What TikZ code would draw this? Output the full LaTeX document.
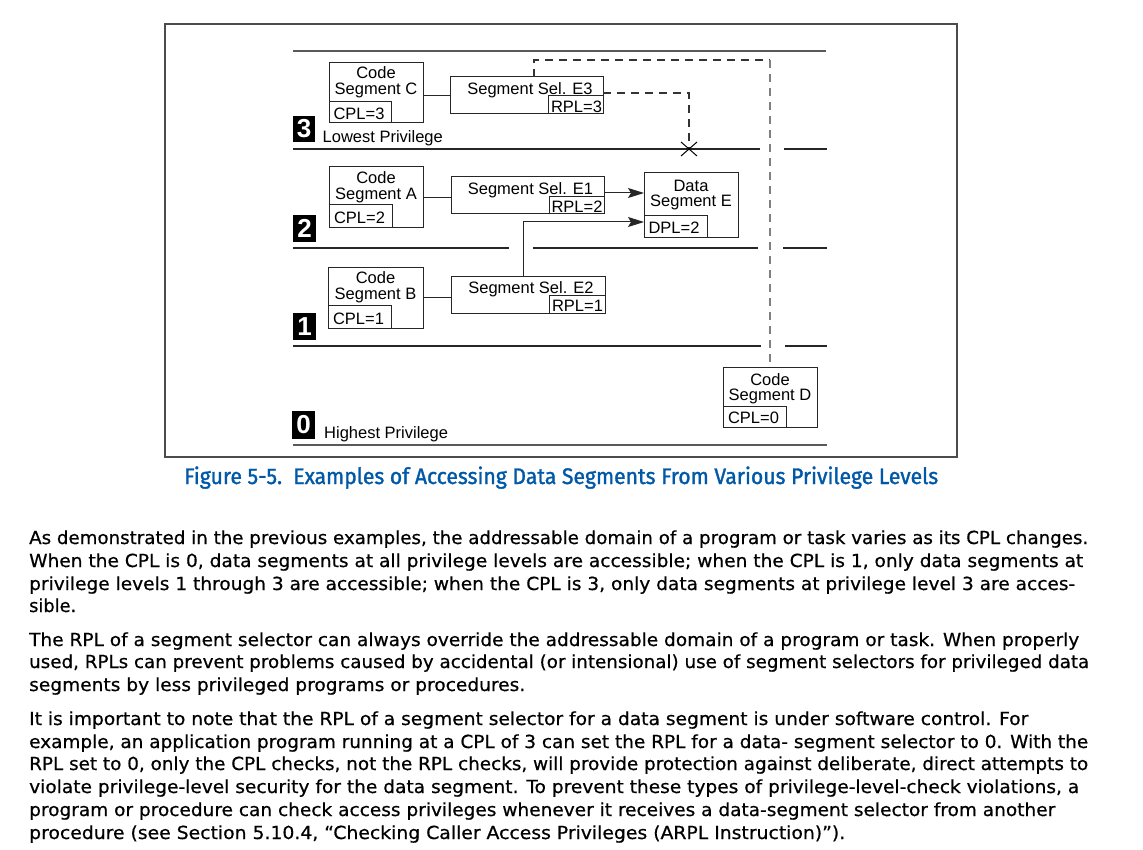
\documentclass[tikz,border=0pt]{standalone}
\usepackage{fontspec}
\usepackage{graphicx}
\usetikzlibrary{arrows.meta,calc}
\newfontfamily\diagfont{Liberation Sans}
\newfontfamily\bodyfont[FakeBold=0.6]{DejaVu Sans}
\newfontfamily\capfont[FakeBold=1.4]{Fira Sans}
\definecolor{capblue}{RGB}{0,88,168}
\newlength\fitlen
\newcommand\fitto[2]{\settowidth{\fitlen}{#2}\pgfmathsetmacro\fitratio{#1/\fitlen}\scalebox{\fitratio}[1]{#2}}
\begin{document}
\begin{tikzpicture}[x=1pt,y=-1pt,
  box/.style={draw=black!85, line width=1pt, rectangle, inner sep=0pt, outer sep=0pt},
  txt/.style={font=\diagfont\fontsize{16.5}{16}\selectfont, inner sep=0pt, anchor=base},
  lvl/.style={fill=black, inner sep=0pt, text=white, font=\diagfont\bfseries\fontsize{26}{26}\selectfont},
  lvline/.style={line width=1.2pt, black!85},
  conn/.style={line width=1pt, black!85},
  arr/.style={conn, -{Stealth[length=16pt, width=10pt, inset=3pt]}},
  dsh/.style={line width=1.2pt, black!80, dash pattern=on 8pt off 6pt},
  gdsh/.style={line width=1.5pt, black!50, dash pattern=on 8pt off 6pt},
  body/.style={font=\bodyfont\fontsize{18}{20}\selectfont, inner sep=0pt, anchor=base west},
  frame/.style={draw=black!70, line width=1.2pt}]
\fill[white] (0,0) rectangle (1143,850);
\useasboundingbox (0,0) rectangle (1143,850);
\draw[frame] (165,24) rectangle (957,457);

% level lines
\draw[lvline, black!65] (293,51) -- (826,51);
\draw[lvline] (293,149) -- (760,149);
\draw[lvline] (784,149) -- (827,149);
\draw[lvline] (293,248) -- (509,248);
\draw[lvline] (533,248) -- (758,248);
\draw[lvline] (783,248) -- (827,248);
\draw[lvline] (293,346) -- (761,346);
\draw[lvline] (785,346) -- (827,346);
\draw[lvline, black!65] (293,445) -- (827,445);

% level labels
\node[lvl, minimum width=22, minimum height=26] (l3) at (304,129) {3};
\node[lvl, minimum width=23, minimum height=27] (l2) at (304.5,228.5) {2};
\node[lvl, minimum width=23, minimum height=27] (l1) at (304.5,326.5) {1};
\node[lvl, minimum width=23, minimum height=28] (l0) at (303.5,425) {0};
\node[txt, anchor=base west] (low) at (322.5,142.5) {Lowest Privilege};
\node[txt, anchor=base west] (high) at (324,438.3) {Highest Privilege};

% boxes
\node[box, minimum width=94, minimum height=60] (csC) at (376,93) {};
\node[box, minimum width=62, minimum height=21] (cplC) at (360,112.5) {};
\node[box, minimum width=153, minimum height=37] (selE3) at (526.5,95.5) {};
\node[box, minimum width=55, minimum height=18] (rplE3) at (575.5,105) {};
\node[box, minimum width=94, minimum height=61] (csA) at (376,197.5) {};
\node[box, minimum width=63, minimum height=23] (cplA) at (360.5,216.5) {};
\node[box, minimum width=153, minimum height=37] (selE1) at (527.5,195.5) {};
\node[box, minimum width=55, minimum height=17] (rplE1) at (576.5,205.5) {};
\node[box, minimum width=94, minimum height=65] (dsE) at (691,205.5) {};
\node[box, minimum width=63, minimum height=22] (dplE) at (675.5,227) {};
\node[box, minimum width=95, minimum height=60] (csB) at (375.5,298) {};
\node[box, minimum width=63, minimum height=22] (cplB) at (359.5,317) {};
\node[box, minimum width=154, minimum height=37] (selE2) at (528,295.5) {};
\node[box, minimum width=56, minimum height=18] (rplE2) at (577,305) {};
\node[box, minimum width=94, minimum height=60] (csD) at (770,397) {};
\node[box, minimum width=63, minimum height=21] (cplD) at (754.5,416.5) {};

% box texts
\node[txt] (tC1) at (376,79) {Code};
\node[txt] (tC2) at (376,95) {Segment C};
\node[txt] (tC3) at (359,119.3) {CPL=3};
\node[txt] (tE3) at (530,94.8) {Segment Sel. E3};
\node[txt] (tE3r) at (576.5,112.5) {RPL=3};
\node[txt] (tA1) at (376,184) {Code};
\node[txt] (tA2) at (376,199.3) {Segment A};
\node[txt] (tA3) at (359.5,223.3) {CPL=2};
\node[txt] (tE1) at (530.5,194.3) {Segment Sel. E1};
\node[txt] (tE1r) at (577,212.3) {RPL=2};
\node[txt] (tE1a) at (691,191.7) {Data};
\node[txt] (tE1b) at (691,206.7) {Segment E};
\node[txt] (tE1c) at (674,234) {DPL=2};
\node[txt] (tB1) at (375.5,284) {Code};
\node[txt] (tB2) at (375.5,299.3) {Segment B};
\node[txt] (tB3) at (358.5,324.3) {CPL=1};
\node[txt] (tE2) at (531,293.3) {Segment Sel. E2};
\node[txt] (tE2r) at (577.5,311.7) {RPL=1};
\node[txt] (tD1) at (770,385) {Code};
\node[txt] (tD2) at (770,400) {Segment D};
\node[txt] (tD3) at (753.5,423.3) {CPL=0};

% connectors
\draw[conn] (csC.east |- selE3.west) -- (selE3.west);
\draw[conn] (csA.east) -- (csA.east -| selE1.west);
\draw[conn] (csB.east) -- (csB.east -| selE2.west);
\draw[arr] ([yshift=2.5pt]selE1.east) -- ([yshift=2.5pt]selE1.east -| dsE.west);
\draw[arr] ([xshift=-5pt]selE2.north) |- ([yshift=-16.5pt]dsE.west);

% dashed
\coordinate (dtop) at (770,60);
\coordinate (xmark) at (689,149);
\draw[dsh] ([xshift=7.5pt]selE3.north) |- (dtop);
\draw[gdsh] (dtop) -- (csD.north);
\draw[dsh] ([yshift=2.5pt]selE3.east) -| (xmark);
\draw[line width=1pt] (xmark) +(-8,-7) -- +(8,7);
\draw[line width=1pt] (xmark) +(-8,7) -- +(8,-7);

% caption
\node[anchor=base west, inner sep=0pt, font=\capfont\fontsize{22.5}{24}\selectfont, text=capblue] (cap) at (184,484)
  {\fitto{754}{Figure 5-5.\ \ Examples of Accessing Data Segments From Various Privilege Levels}};

% body text
\node[body] (p1a) at (29,544) {\fitto{1059}{As demonstrated in the previous examples, the addressable domain of a program or task varies as its CPL changes.}};
\node[body] (p1b) at (29,567) {\fitto{1054}{When the CPL is 0, data segments at all privilege levels are accessible; when the CPL is 1, only data segments at}};
\node[body] (p1c) at (29,590) {\fitto{1046}{privilege levels 1 through 3 are accessible; when the CPL is 3, only data segments at privilege level 3 are acces-}};
\node[body] (p1d) at (29,612) {\fitto{47}{sible.}};
\node[body] (p2a) at (29,646) {\fitto{1050}{The RPL of a segment selector can always override the addressable domain of a program or task. When properly}};
\node[body] (p2b) at (29,668) {\fitto{1060}{used, RPLs can prevent problems caused by accidental (or intensional) use of segment selectors for privileged data}};
\node[body] (p2c) at (29,691) {\fitto{496}{segments by less privileged programs or procedures.}};
\node[body] (p3a) at (29,725) {\fitto{999}{It is important to note that the RPL of a segment selector for a data segment is under software control. For}};
\node[body] (p3b) at (29,748) {\fitto{1059}{example, an application program running at a CPL of 3 can set the RPL for a data- segment selector to 0. With the}};
\node[body] (p3c) at (29,770) {\fitto{1059}{RPL set to 0, only the CPL checks, not the RPL checks, will provide protection against deliberate, direct attempts to}};
\node[body] (p3d) at (29,793) {\fitto{1050}{violate privilege-level security for the data segment. To prevent these types of privilege-level-check violations, a}};
\node[body] (p3e) at (29,816) {\fitto{1026}{program or procedure can check access privileges whenever it receives a data-segment selector from another}};
\node[body] (p3f) at (29,839) {\fitto{816}{procedure (see Section 5.10.4, “Checking Caller Access Privileges (ARPL Instruction)”).}};
\end{tikzpicture}
\end{document}
